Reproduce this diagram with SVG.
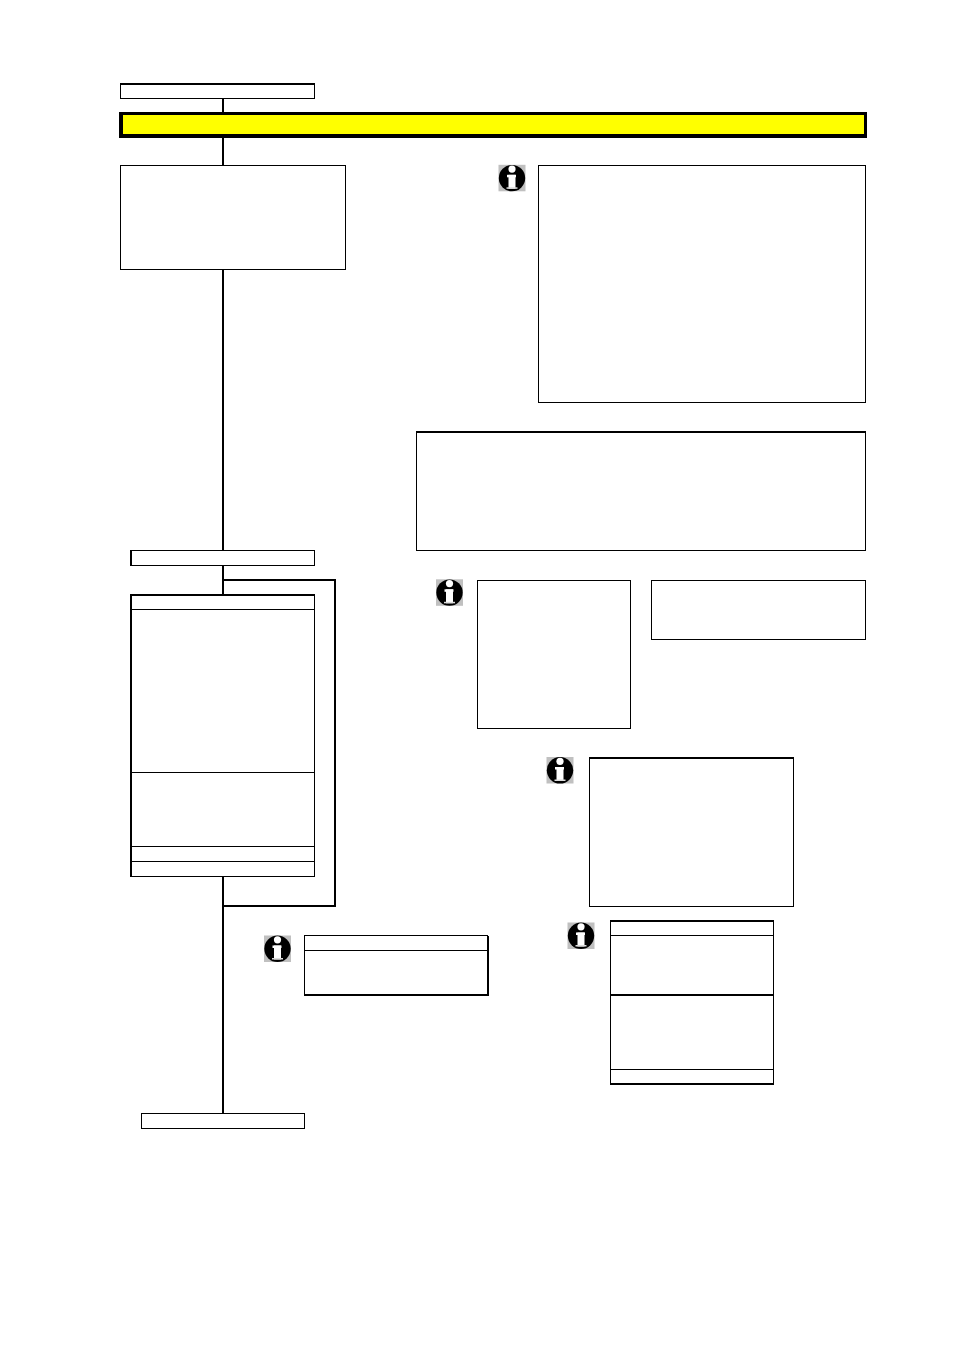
<svg xmlns="http://www.w3.org/2000/svg" width="954" height="1351" viewBox="0 0 954 1351">
<style>
.b{fill:#fff;stroke:#000;stroke-width:1}
.d{fill:none;stroke:#000;stroke-width:1}
.t{fill:none;stroke:#000;stroke-width:2}
.c{fill:none;stroke:#000;stroke-width:2}
</style>
<defs>
<g id="info">
<rect x="0" y="0" width="27" height="26.500" fill="#c0c0c0"/>
<circle cx="13.500" cy="13.300" r="13.200" fill="#000"/>
<circle cx="13.500" cy="4.300" r="3.600" fill="#fff"/>
<rect x="8.500" y="10" width="9" height="2.500" fill="#fff"/>
<rect x="10" y="10" width="7" height="14" fill="#fff"/>
<rect x="8" y="22.500" width="11" height="1.500" fill="#ddd"/>
</g>
</defs>
<rect width="954" height="1351" fill="#fff"/>
<g id="connectors">
<path class="c" d="M223 99V112M223 138V165M223 270V551M223 566V595M223 877V1113"/>
<path class="c" d="M223 580H335V906H223"/>
</g>
<g id="start"><rect class="b" x="120.500" y="83.500" width="194" height="15"/><path class="d" d="M120 84.500H315"/></g>
<g id="title"><rect x="119" y="112" width="748" height="26" fill="#000"/><rect x="123" y="115" width="741" height="19" fill="#ff0"/></g>
<g id="box-a"><rect class="b" x="120.500" y="165.500" width="225" height="104"/></g>
<g id="icon-1"><use href="#info" x="498.500" y="164.800"/></g>
<g id="note-1"><rect class="b" x="538.500" y="165.500" width="327" height="237"/></g>
<g id="note-2"><rect class="b" x="416.500" y="432.500" width="449" height="118"/><path class="t" d="M416 432H866"/></g>
<g id="step-2"><rect class="b" x="131.500" y="550.500" width="183" height="15"/><path class="d" d="M130.500 550V566"/></g>
<g id="table-1">
<rect class="b" x="131.500" y="595.500" width="183" height="281"/>
<path class="t" d="M130 595H315M131 594V877"/>
<path class="d" d="M131 609.500H315M131 772.500H315M131 846.500H315M131 861.500H315"/>
</g>
<g id="icon-2"><use href="#info" x="436" y="579.300"/></g>
<g id="note-3"><rect class="b" x="477.500" y="580.500" width="153" height="148"/></g>
<g id="note-4"><rect class="b" x="651.500" y="580.500" width="214" height="59"/></g>
<g id="icon-3"><use href="#info" x="546.500" y="757"/></g>
<g id="note-5"><rect class="b" x="589.500" y="757.500" width="204" height="149"/><path class="t" d="M589 758H794"/></g>
<g id="icon-4"><use href="#info" x="264" y="935.500"/></g>
<g id="note-6">
<rect class="b" x="304.500" y="935.500" width="183" height="59"/>
<path class="d" d="M304 950.500H488"/>
<path class="t" d="M304 995H489M488 936V996"/>
</g>
<g id="icon-5"><use href="#info" x="567.500" y="922.500"/></g>
<g id="table-2">
<rect class="b" x="610.500" y="921" width="163" height="162.500"/>
<path class="t" d="M610 921H774M610 995H774M610 1084H774"/>
<path class="d" d="M610 935.500H774M610 1069.500H774"/>
</g>
<g id="end"><rect class="b" x="141.500" y="1113.500" width="163" height="15"/></g>
</svg>
